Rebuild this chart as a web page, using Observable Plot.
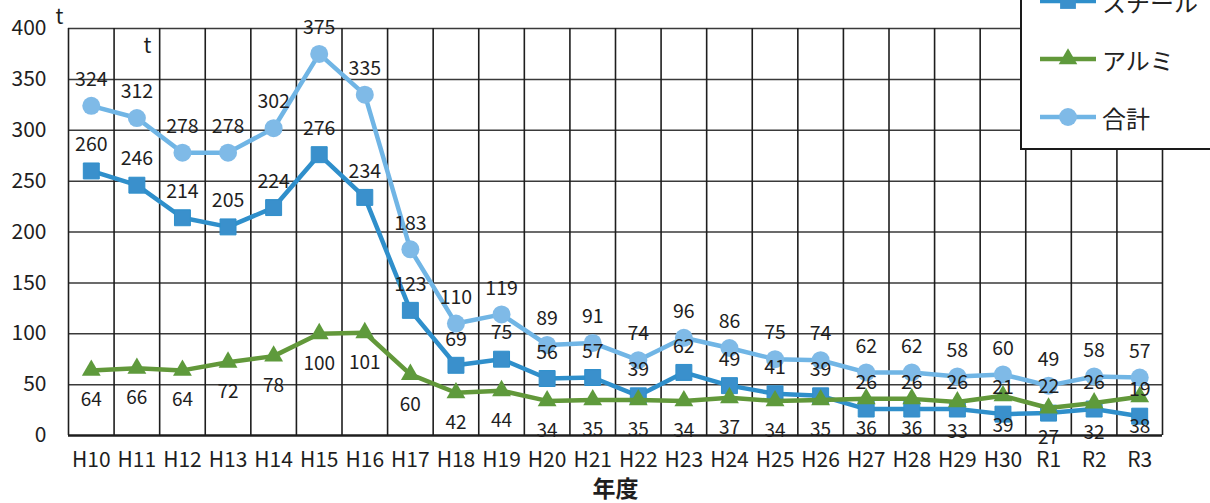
<!DOCTYPE html>
<html><head><meta charset="utf-8">
<script src="https://cdn.jsdelivr.net/npm/d3@7"></script>
<script src="https://cdn.jsdelivr.net/npm/@observablehq/plot@0.6"></script>
<style>
body{margin:0;background:#fff;overflow:hidden;font-family:"Noto Sans CJK JP","Noto Sans",sans-serif;}
#wrap{position:relative;width:1210px;height:503px;overflow:hidden;}
#legend{position:absolute;left:1020px;top:-50px;width:220px;height:200px;border:2px solid #1a1a1a;background:#fff;box-sizing:border-box;}
.item{position:absolute;left:16px;height:30px;display:flex;align-items:center;font-size:24px;color:#222;}
.item svg{margin-right:4px;}
</style></head>
<body><div id="wrap"><div id="chart"></div><div id="legend"></div></div>
<script>
const years = ["H10","H11","H12","H13","H14","H15","H16","H17","H18","H19","H20","H21","H22","H23","H24","H25","H26","H27","H28","H29","H30","R1","R2","R3"];
const steel = [260,246,214,205,224,276,234,123,69,75,56,57,39,62,49,41,39,26,26,26,21,22,26,19];
const alum  = [64,66,64,72,78,100,101,60,42,44,34,35,35,34,37,34,35,36,36,33,39,27,32,38];
const total = [324,312,278,278,302,375,335,183,110,119,89,91,74,96,86,75,74,62,62,58,60,49,58,57];
const seriesNames = ["スチール","アルミ","合計"];
const yTicks = [0,50,100,150,200,250,300,350,400];
const xTitle = "年度";
const unit = "t";

const colSteel = "#2f8fcb", colSteelDot = "#3a90cc";
const colAlum = "#62983a", colAlumDot = "#5e9a3c";
const colTotal = "#70b5e5", colTotalDot = "#7fbae7";
const font = '"Noto Sans CJK JP","Noto Sans",sans-serif';

const rows = years.map((yr, i) => ({i, yr, steel: steel[i], alum: alum[i], total: total[i]}));

const chart = Plot.plot({
  width: 1210, height: 503,
  marginLeft: 68, marginRight: 48, marginTop: 28, marginBottom: 68,
  style: {fontFamily: font, fontSize: "21px", color: "#222", background: "#fff", overflow: "visible"},
  x: {type: "linear", domain: [-0.5, years.length - 0.5]},
  y: {domain: [0, 400]},
  marks: [
    Plot.axisX({ticks: d3.range(years.length), tickFormat: i => years[i], tickSize: 0, tickPadding: 17, label: null, fontSize: 21, fill: "#1e1e1e"}),
    Plot.axisY({ticks: yTicks, tickSize: 0, tickPadding: 22, label: null, fontSize: 21, fill: "#1e1e1e"}),
    Plot.ruleY(yTicks.slice(1), {stroke: "#3a3a3a", strokeWidth: 1.5, strokeOpacity: 1}),
    Plot.ruleX(d3.range(years.length + 1), {x: d => d - 0.5, stroke: "#1e1e1e", strokeWidth: 1.6, strokeOpacity: 1}),
    Plot.ruleY([0], {stroke: "#1e1e1e", strokeWidth: 2.5}),
    Plot.line(rows, {x: "i", y: "steel", stroke: colSteel, strokeWidth: 4.5}),
    Plot.dot(rows, {x: "i", y: "steel", symbol: "square", r: 9, fill: colSteelDot, stroke: colSteel, strokeWidth: 1}),
    Plot.line(rows, {x: "i", y: "alum", stroke: colAlum, strokeWidth: 4.5}),
    Plot.dot(rows, {x: "i", y: "alum", symbol: "triangle", r: 7, fill: colAlumDot}),
    Plot.line(rows, {x: "i", y: "total", stroke: colTotal, strokeWidth: 4.5}),
    Plot.dot(rows, {x: "i", y: "total", symbol: "circle", r: 9, fill: colTotalDot}),
    Plot.text(rows, {x: "i", y: "total", text: d => String(d.total), dy: -26, fontSize: 19.5, fill: "#1e1e1e"}),
    Plot.text(rows, {x: "i", y: "steel", text: d => String(d.steel), dy: -26, fontSize: 19.5, fill: "#1e1e1e"}),
    Plot.text(rows, {x: "i", y: "alum", text: d => String(d.alum), dy: 30, fontSize: 19, fill: "#1e1e1e"}),
    Plot.text([unit], {frameAnchor: "top-left", dx: -13, dy: -19, fontSize: 21, fill: "#1e1e1e"}),
    Plot.text([unit], {frameAnchor: "top-left", dx: 75, dy: 10, fontSize: 21, fill: "#1e1e1e"}),
    Plot.text([xTitle], {frameAnchor: "bottom", lineAnchor: "middle", dy: 54, fontSize: 23, fontWeight: "bold", fill: "#1e1e1e"})
  ]
});
document.getElementById("chart").append(chart);

// legend
const legend = document.getElementById("legend");
const legendSpec = [
  {name: seriesNames[0], line: colSteel, dot: colSteelDot, sym: d3.symbolSquare, size: 250},
  {name: seriesNames[1], line: colAlum, dot: colAlumDot, sym: d3.symbolTriangle, size: 150},
  {name: seriesNames[2], line: colTotal, dot: colTotalDot, sym: d3.symbolCircle, size: 250}
];
legendSpec.forEach((s, k) => {
  const div = document.createElement("div");
  div.className = "item";
  div.style.top = (34 + k * 58) + "px";
  const svg = d3.create("svg").attr("width", 60).attr("height", 30);
  svg.append("line").attr("x1", 2).attr("x2", 58).attr("y1", 15).attr("y2", 15).attr("stroke", s.line).attr("stroke-width", 4.5);
  svg.append("path").attr("transform", "translate(30,15)").attr("d", d3.symbol(s.sym, s.size)()).attr("fill", s.dot);
  div.append(svg.node());
  const span = document.createElement("span");
  span.textContent = s.name;
  div.append(span);
  legend.append(div);
});
</script>
</body></html>
